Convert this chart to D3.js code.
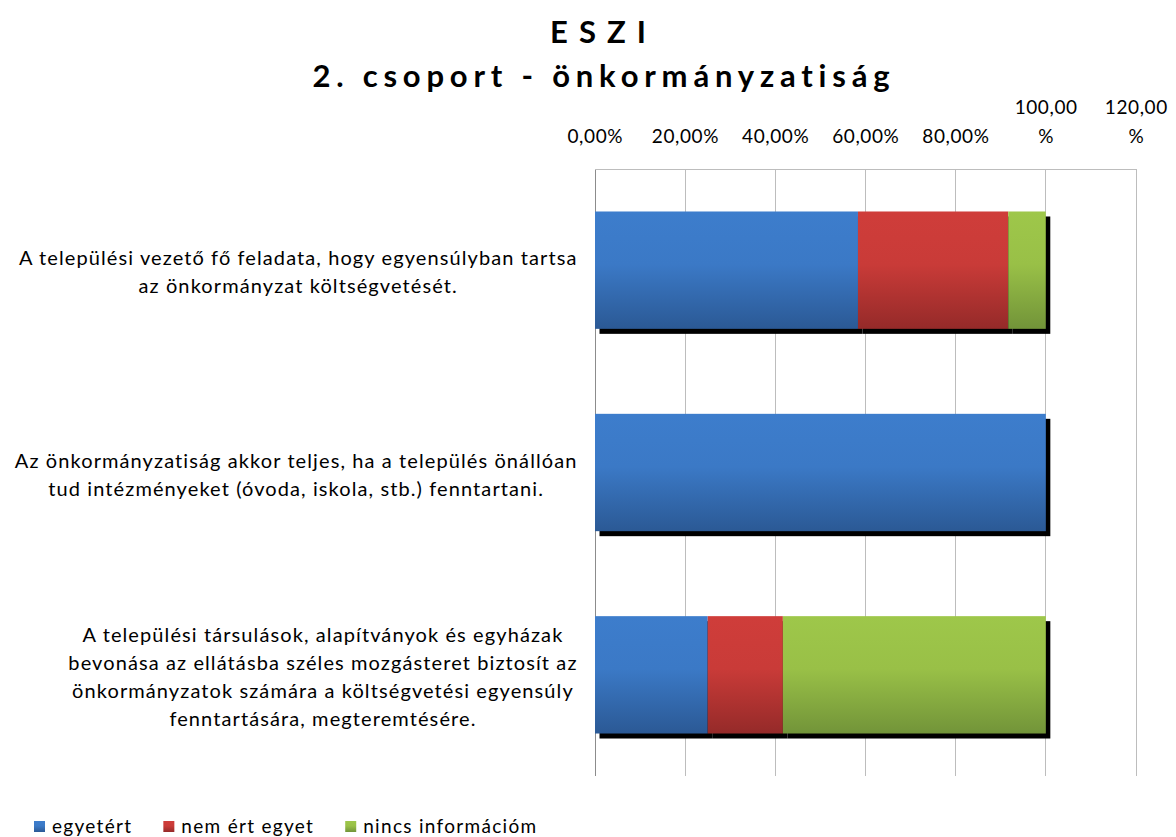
<!DOCTYPE html>
<html>
<head>
<meta charset="utf-8">
<script src="https://cdn.jsdelivr.net/npm/d3@7"></script>
<style>
  html, body { margin: 0; padding: 0; background: #fff; }
  svg { display: block; font-family: Lato, "Open Sans", sans-serif; }
</style>
</head>
<body>
<svg id="chart" width="1176" height="837"></svg>
<script>
const titleLines = ["ESZI", "2. csoport - önkormányzatiság"];
const categories = [
  "A települési vezető fő feladata, hogy egyensúlyban tartsa\naz önkormányzat költségvetését.",
  "Az önkormányzatiság akkor teljes, ha a település önállóan\ntud intézményeket (óvoda, iskola, stb.) fenntartani.",
  "A települési társulások, alapítványok és egyházak\nbevonása az ellátásba széles mozgásteret biztosít az\nönkormányzatok számára a költségvetési egyensúly\nfenntartására, megteremtésére."
];
const seriesNames = ["egyetért", "nem ért egyet", "nincs információm"];
const egyetert = [0.5833, 1.0, 0.25];
const nemErtEgyet = [0.3333, 0.0, 0.1667];
const nincsInformacio = [0.0833, 0.0, 0.5833];
const tickValues = [0, 0.2, 0.4, 0.6, 0.8, 1.0, 1.2];

const seriesValues = [egyetert, nemErtEgyet, nincsInformacio];
const colors = [
  {top: "#3d7dcc", mid: "#3b79c6", bot: "#2b5995"},
  {top: "#cf3d3a", mid: "#c93b38", bot: "#952a29"},
  {top: "#9ec74a", mid: "#99c047", bot: "#729439"}
];

const svg = d3.select("#chart");
const defs = svg.append("defs");
colors.forEach((c, i) => {
  const g = defs.append("linearGradient").attr("id", "grad" + i)
    .attr("x1", 0).attr("y1", 0).attr("x2", 0).attr("y2", 1);
  g.append("stop").attr("offset", "0%").attr("stop-color", c.top);
  g.append("stop").attr("offset", "45%").attr("stop-color", c.mid);
  g.append("stop").attr("offset", "100%").attr("stop-color", c.bot);
});

const table = categories.map((cat, i) => {
  const row = {cat};
  seriesNames.forEach((s, j) => row[s] = seriesValues[j][i]);
  return row;
});
const stacked = d3.stack().keys(seriesNames)(table);

const x = d3.scaleLinear().domain([0, 1.2]).range([595, 1136]);
const y = d3.scaleBand().domain(categories).range([169, 776])
  .paddingInner(0.42).paddingOuter(0.21);

const locale = d3.formatLocale({decimal: ",", thousands: " ", grouping: [3], currency: ["", ""], percent: "%"});
const fmt = locale.format(".2%");

// gridlines
svg.append("g").selectAll("line").data(tickValues).join("line")
  .attr("x1", d => x(d)).attr("x2", d => x(d))
  .attr("y1", y.range()[0]).attr("y2", y.range()[1])
  .attr("stroke", d => d === 0 ? "#8c8c8c" : "#bdbdbd").attr("stroke-width", 1)
  .attr("shape-rendering", "crispEdges");
// top axis line
svg.append("line").attr("x1", x(0)).attr("x2", x(1.2))
  .attr("y1", y.range()[0]).attr("y2", y.range()[0])
  .attr("stroke", "#bdbdbd").attr("shape-rendering", "crispEdges");

// tick labels (top)
const tickLS = 0.6;
const tickG = svg.append("g").attr("font-size", 19).attr("fill", "#000")
  .attr("text-anchor", "middle").attr("letter-spacing", tickLS);
tickValues.forEach(v => {
  const s = fmt(v);
  const cx = x(v) + tickLS / 2;
  if (v >= 1) {
    const num = s.replace("%", "");
    tickG.append("text").attr("x", cx).attr("y", 114).text(num);
    tickG.append("text").attr("x", cx).attr("y", 143).text("%");
  } else {
    tickG.append("text").attr("x", cx).attr("y", 143).text(s);
  }
});

// shadows
const shadowG = svg.append("g");
stacked.forEach(layer => {
  shadowG.selectAll(null).data(layer.filter(d => d[1] > d[0])).join("rect")
    .attr("x", d => x(d[0]) + 4.5)
    .attr("y", d => y(d.data.cat) + 5)
    .attr("width", d => x(d[1]) - x(d[0]))
    .attr("height", y.bandwidth())
    .attr("fill", "#000");
});
// bars
stacked.forEach((layer, i) => {
  svg.append("g").selectAll("rect").data(layer.filter(d => d[1] > d[0])).join("rect")
    .attr("x", d => x(d[0]))
    .attr("y", d => y(d.data.cat))
    .attr("width", d => x(d[1]) - x(d[0]))
    .attr("height", y.bandwidth())
    .attr("fill", `url(#grad${i})`);
});

// category labels
const labelLS = 1.1;
const labelG = svg.append("g").attr("font-size", 20).attr("fill", "#000")
  .attr("text-anchor", "middle").attr("letter-spacing", labelLS);
const lineH = 28;
categories.forEach(cat => {
  const lines = cat.split("\n");
  const g = labelG.append("g");
  const cy = y(cat) + y.bandwidth() / 2 + 2;
  const texts = lines.map((ln, k) => g.append("text")
    .attr("y", cy - (lines.length - 1) / 2 * lineH + k * lineH + 7)
    .text(ln));
  const w = d3.max(texts, t => t.node().getComputedTextLength());
  const rightEdge = x(0) - 18;
  texts.forEach(t => t.attr("x", rightEdge - w / 2 + labelLS / 2));
});

// title
const titleG = svg.append("g").attr("font-size", 31).attr("font-weight", "bold")
  .attr("text-anchor", "middle").attr("fill", "#000");
titleG.append("text").attr("x", 598 + 5.5).attr("y", 43).attr("letter-spacing", 11).text(titleLines[0]);
titleG.append("text").attr("x", 601 + 2.9).attr("y", 87).attr("letter-spacing", 5.8).text(titleLines[1]);

// legend
const legend = svg.append("g").attr("font-size", 19).attr("letter-spacing", 1.3);
let lx = 34;
seriesNames.forEach((s, i) => {
  const item = legend.append("g").attr("transform", `translate(${lx},0)`);
  item.append("rect").attr("x", 0).attr("y", 821).attr("width", 11).attr("height", 11)
    .attr("fill", `url(#grad${i})`);
  const t = item.append("text").attr("x", 18).attr("y", 833).text(s);
  lx += 18 + t.node().getComputedTextLength() + 31;
});
</script>
</body>
</html>
